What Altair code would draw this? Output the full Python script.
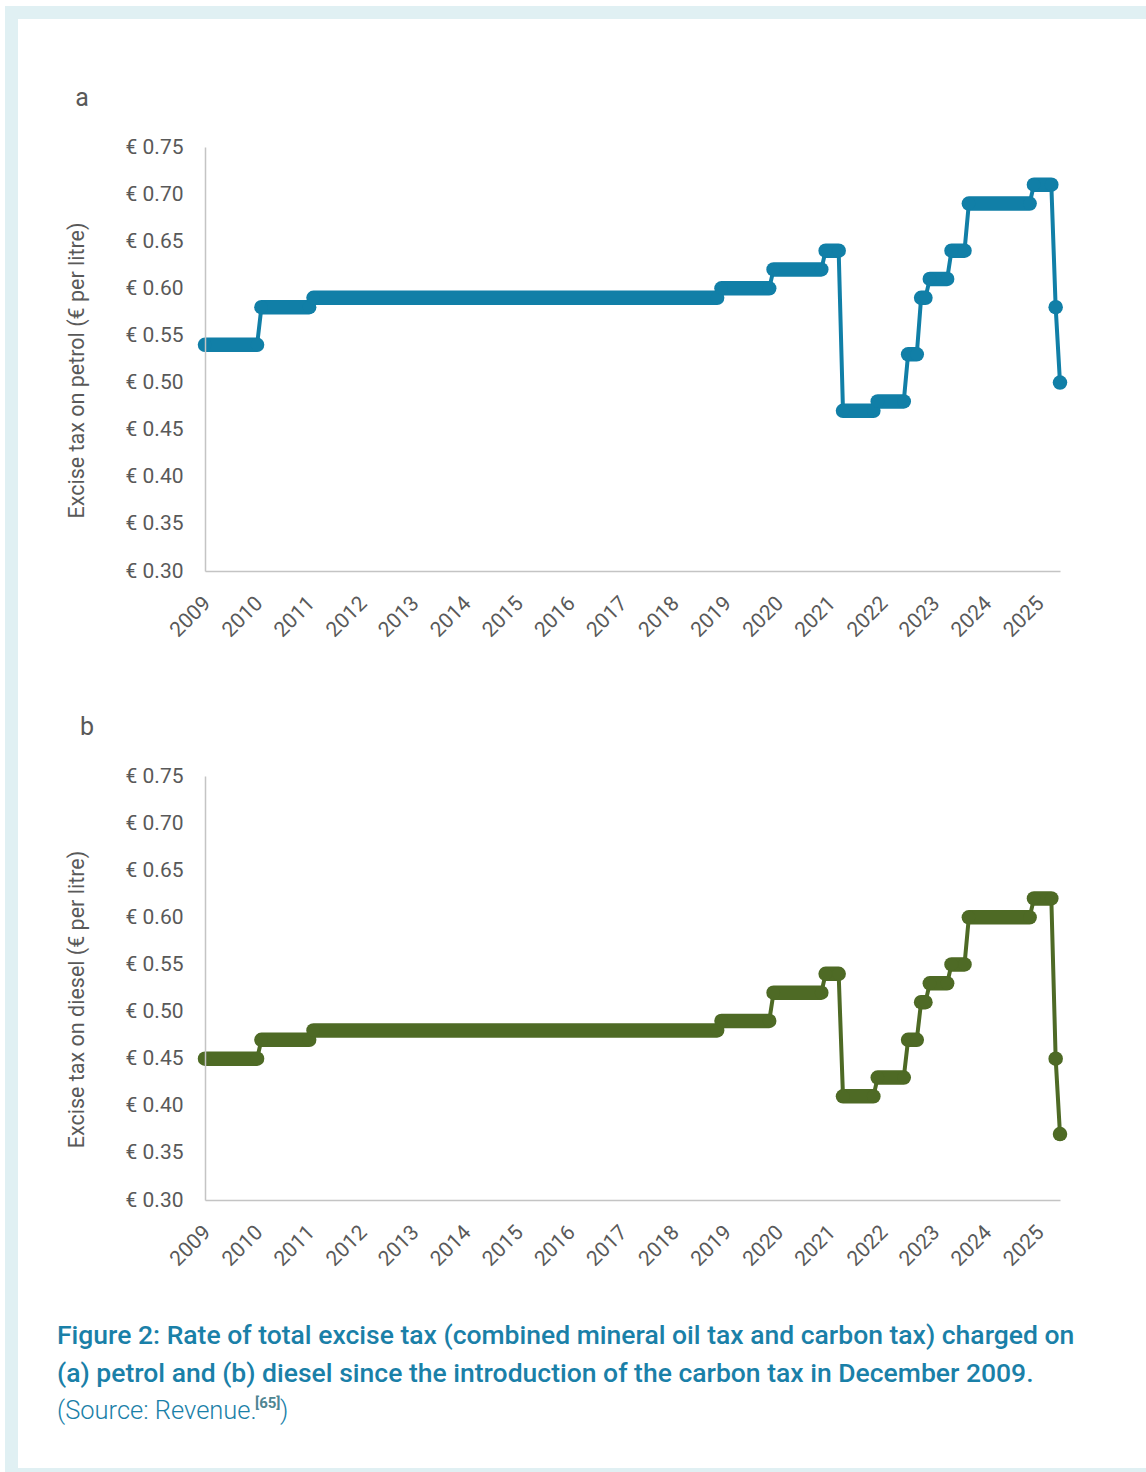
import altair as alt
import pandas as pd

# ---------------- data ----------------
YEARS = list(range(2009, 2026))                      # x tick labels
TICK_MONTHS = [12 * i for i in range(len(YEARS))]    # months since Dec 2009
Y_TICKS = [0.30, 0.35, 0.40, 0.45, 0.50, 0.55, 0.60, 0.65, 0.70, 0.75]

# runs of constant rate: first and last month index (months since Dec 2009)
RUN_FIRST = [0, 13, 25, 119, 131, 143, 147, 155, 162, 165, 167, 172, 176, 191, 196, 197]
RUN_LAST = [12, 24, 118, 130, 142, 146, 154, 161, 164, 166, 171, 175, 190, 195, 196, 197]
PETROL = [0.54, 0.58, 0.59, 0.60, 0.62, 0.64, 0.47, 0.48, 0.53, 0.59, 0.61, 0.64, 0.69, 0.71, 0.58, 0.50]
DIESEL = [0.45, 0.47, 0.48, 0.49, 0.52, 0.54, 0.41, 0.43, 0.47, 0.51, 0.53, 0.55, 0.60, 0.62, 0.45, 0.37]

CAPTION_1 = "Figure 2: Rate of total excise tax (combined mineral oil tax and carbon tax) charged on"
CAPTION_2 = "(a) petrol and (b) diesel since the introduction of the carbon tax in December 2009."
SOURCE = "(Source: Revenue."
REF = "[65]"
CLOSE = ")"

# ---------------- style ----------------
W, H = 855, 424
PETROL_COLOR = "#117fa7"
DIESEL_COLOR = "#4e6a25"
TEXT_GRAY = "#595959"
AXIS_GRAY = "#c4c4c4"
FRAME = "#e0f0f3"
CAPTION = "#1a80a8"
FONT = "Roboto"

one = pd.DataFrame({"k": [0]})


def runs_df(rates):
    return pd.DataFrame({"first": RUN_FIRST, "last": RUN_LAST, "rate": rates})


def points_df(rates):
    months, vals = [], []
    for f, l, r in zip(RUN_FIRST, RUN_LAST, rates):
        months.append(f)
        vals.append(r)
        if l != f:
            months.append(l)
            vals.append(r)
    return pd.DataFrame({"month": months, "rate": vals})


x_scale = alt.Scale(domain=[0, max(RUN_LAST)], nice=False, zero=False)
y_scale = alt.Scale(domain=[0.30, 0.75], nice=False, zero=False)

x_axis = alt.Axis(
    values=TICK_MONTHS,
    labelExpr="format(2009 + datum.value / 12, 'd')",
    labelAngle=-45, labelAlign="right", labelBaseline="middle",
    labelPadding=29, labelOffset=2, labelFlush=False, labelOverlap=False,
    ticks=False, tickSize=0, grid=False,
    domainColor=AXIS_GRAY, domainWidth=1.5,
    labelFont=FONT, labelFontSize=21, labelColor=TEXT_GRAY,
    title=None, zindex=1,
)


def y_axis(title):
    return alt.Axis(
        values=Y_TICKS,
        labelExpr="'€ ' + format(datum.value, '.2f')",
        labelPadding=22, ticks=False, tickSize=0, grid=False,
        domainColor=AXIS_GRAY, domainWidth=1.5,
        labelFont=FONT, labelFontSize=21, labelColor=TEXT_GRAY,
        title=title, titleFont=FONT, titleFontSize=21.5, titleFontWeight="normal",
        titleColor=TEXT_GRAY, titleX=-128, titleY=223, titleAngle=270,
        titleAlign="center", titleBaseline="middle",
        zindex=1,
    )


def rect(x1, x2, y1, y2, color):
    return alt.Chart(one).mark_rect(color=color, strokeWidth=0).encode(
        x=alt.value(x1), x2=alt.value(x2), y=alt.value(y1), y2=alt.value(y2)
    )


def text(label, x, y, size, color, weight="normal", align="left"):
    return alt.Chart(one).mark_text(
        text=label, font=FONT, fontSize=size, fontWeight=weight, color=color,
        align=align, baseline="middle",
    ).encode(x=alt.value(x), y=alt.value(y))


def panel(rates, color, ytitle, letter, letter_x, before, after):
    ya = y_axis(ytitle)
    line = alt.Chart(points_df(rates)).mark_line(color=color, strokeWidth=4).encode(
        x=alt.X("month:Q", scale=x_scale, axis=x_axis),
        y=alt.Y("rate:Q", scale=y_scale, axis=ya),
    )
    runs = alt.Chart(runs_df(rates)).mark_rule(color=color, strokeWidth=14.5, strokeCap="round").encode(
        x=alt.X("first:Q", scale=x_scale, axis=x_axis),
        x2="last:Q",
        y=alt.Y("rate:Q", scale=y_scale, axis=ya),
    )
    dots = alt.Chart(points_df(rates)).mark_circle(color=color, size=170, opacity=1).encode(
        x=alt.X("month:Q", scale=x_scale, axis=x_axis),
        y=alt.Y("rate:Q", scale=y_scale, axis=ya),
    )
    lab = text(letter, letter_x, -49, 25, TEXT_GRAY, align="center")
    return alt.layer(*before, line, runs, dots, lab, *after).properties(width=W, height=H)


# canvas background + frame (coordinates relative to panel a's plot origin)
background = [
    rect(-205, 941, -147, 1325, "white"),
    rect(-200, 941, -141, 1325, FRAME),
    rect(-187, 941, -128, 1321, "white"),
]

caption = [
    text(CAPTION_1, -148, 560, 26.5, CAPTION, weight=500),
    text(CAPTION_2, -148, 598, 26.5, CAPTION, weight=500),
    text(SOURCE, -148, 635, 25.5, CAPTION, weight=300),
    text(REF, 50, 627, 15, "#4f8692", weight="bold"),
    text(CLOSE, 75, 635, 25.5, CAPTION, weight=300),
]

panel_a = panel(PETROL, PETROL_COLOR, "Excise tax on petrol (€ per litre)", "a", -123, background, [])
panel_b = panel(DIESEL, DIESEL_COLOR, "Excise tax on diesel (€ per litre)", "b", -118, [], caption)

chart = alt.VConcatChart(
    vconcat=[panel_a, panel_b],
    spacing=205,
    bounds="flush",
    padding=0,
    autosize=alt.AutoSizeParams(type="pad"),
    background="white",
).configure_view(strokeWidth=0)

chart.save("out.html", embed_options={"renderer": "svg", "actions": False})
